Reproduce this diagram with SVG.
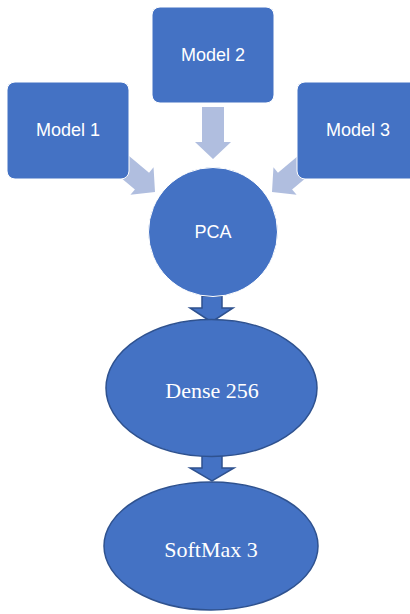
<svg xmlns="http://www.w3.org/2000/svg" width="410" height="614" viewBox="0 0 410 614">
<style>
.box{fill:#4472C4;stroke:#ffffff;stroke-width:1}
.ell{fill:#4472C4;stroke:#2F528F;stroke-width:1.5}
.la{fill:#B0BEDF;stroke:none}
.da{fill:#4472C4;stroke:#2F528F;stroke-width:1.5;stroke-linejoin:miter}
.t{fill:#ffffff;font-family:"Liberation Sans",Arial,sans-serif;font-size:18px;text-anchor:middle;dominant-baseline:central}
.s{fill:#ffffff;font-family:"Liberation Serif","Times New Roman",serif;font-size:22px;text-anchor:middle;dominant-baseline:central}
</style>
<rect width="410" height="614" fill="#ffffff"/>
<g id="connectors">
<path class="la" d="M202,107 L224,107 L224,142 L231,142 L213,159 L195,142 L202,142 Z"/>
<path class="la" transform="translate(155,192) rotate(40) translate(-45,0)" d="M0,-11 L28,-11 L28,-18 L45,0 L28,18 L28,11 L0,11 Z"/>
<path class="la" transform="translate(272,192) rotate(140) translate(-45,0)" d="M0,-11 L28,-11 L28,-18 L45,0 L28,18 L28,11 L0,11 Z"/>
<path class="da" d="M202,296 L222,296 L222,308 L233,308 L211.5,322 L190,308 L202,308 Z"/>
<path class="da" d="M202,455 L222,455 L222,468 L234,468 L212,481 L190,468 L202,468 Z"/>
</g>
<g id="model1">
<rect class="box" x="7" y="82" width="122" height="97" rx="8"/>
<text class="t" x="68" y="130">Model 1</text>
</g>
<g id="model2">
<rect class="box" x="152" y="7" width="122" height="96" rx="8"/>
<text class="t" x="213" y="55">Model 2</text>
</g>
<g id="model3">
<rect class="box" x="297" y="82" width="122" height="97" rx="8"/>
<text class="t" x="358" y="130">Model 3</text>
</g>
<g id="pca">
<circle cx="213" cy="232" r="64.5" fill="#4472C4" stroke="#ffffff" stroke-width="1"/>
<text class="t" x="213" y="232">PCA</text>
</g>
<g id="dense">
<ellipse class="ell" cx="211.5" cy="388" rx="105.5" ry="68.5"/>
<text class="s" x="212" y="390">Dense 256</text>
</g>
<g id="softmax">
<ellipse class="ell" cx="211" cy="546" rx="107" ry="64"/>
<text class="s" x="211" y="549">SoftMax 3</text>
</g>
</svg>
